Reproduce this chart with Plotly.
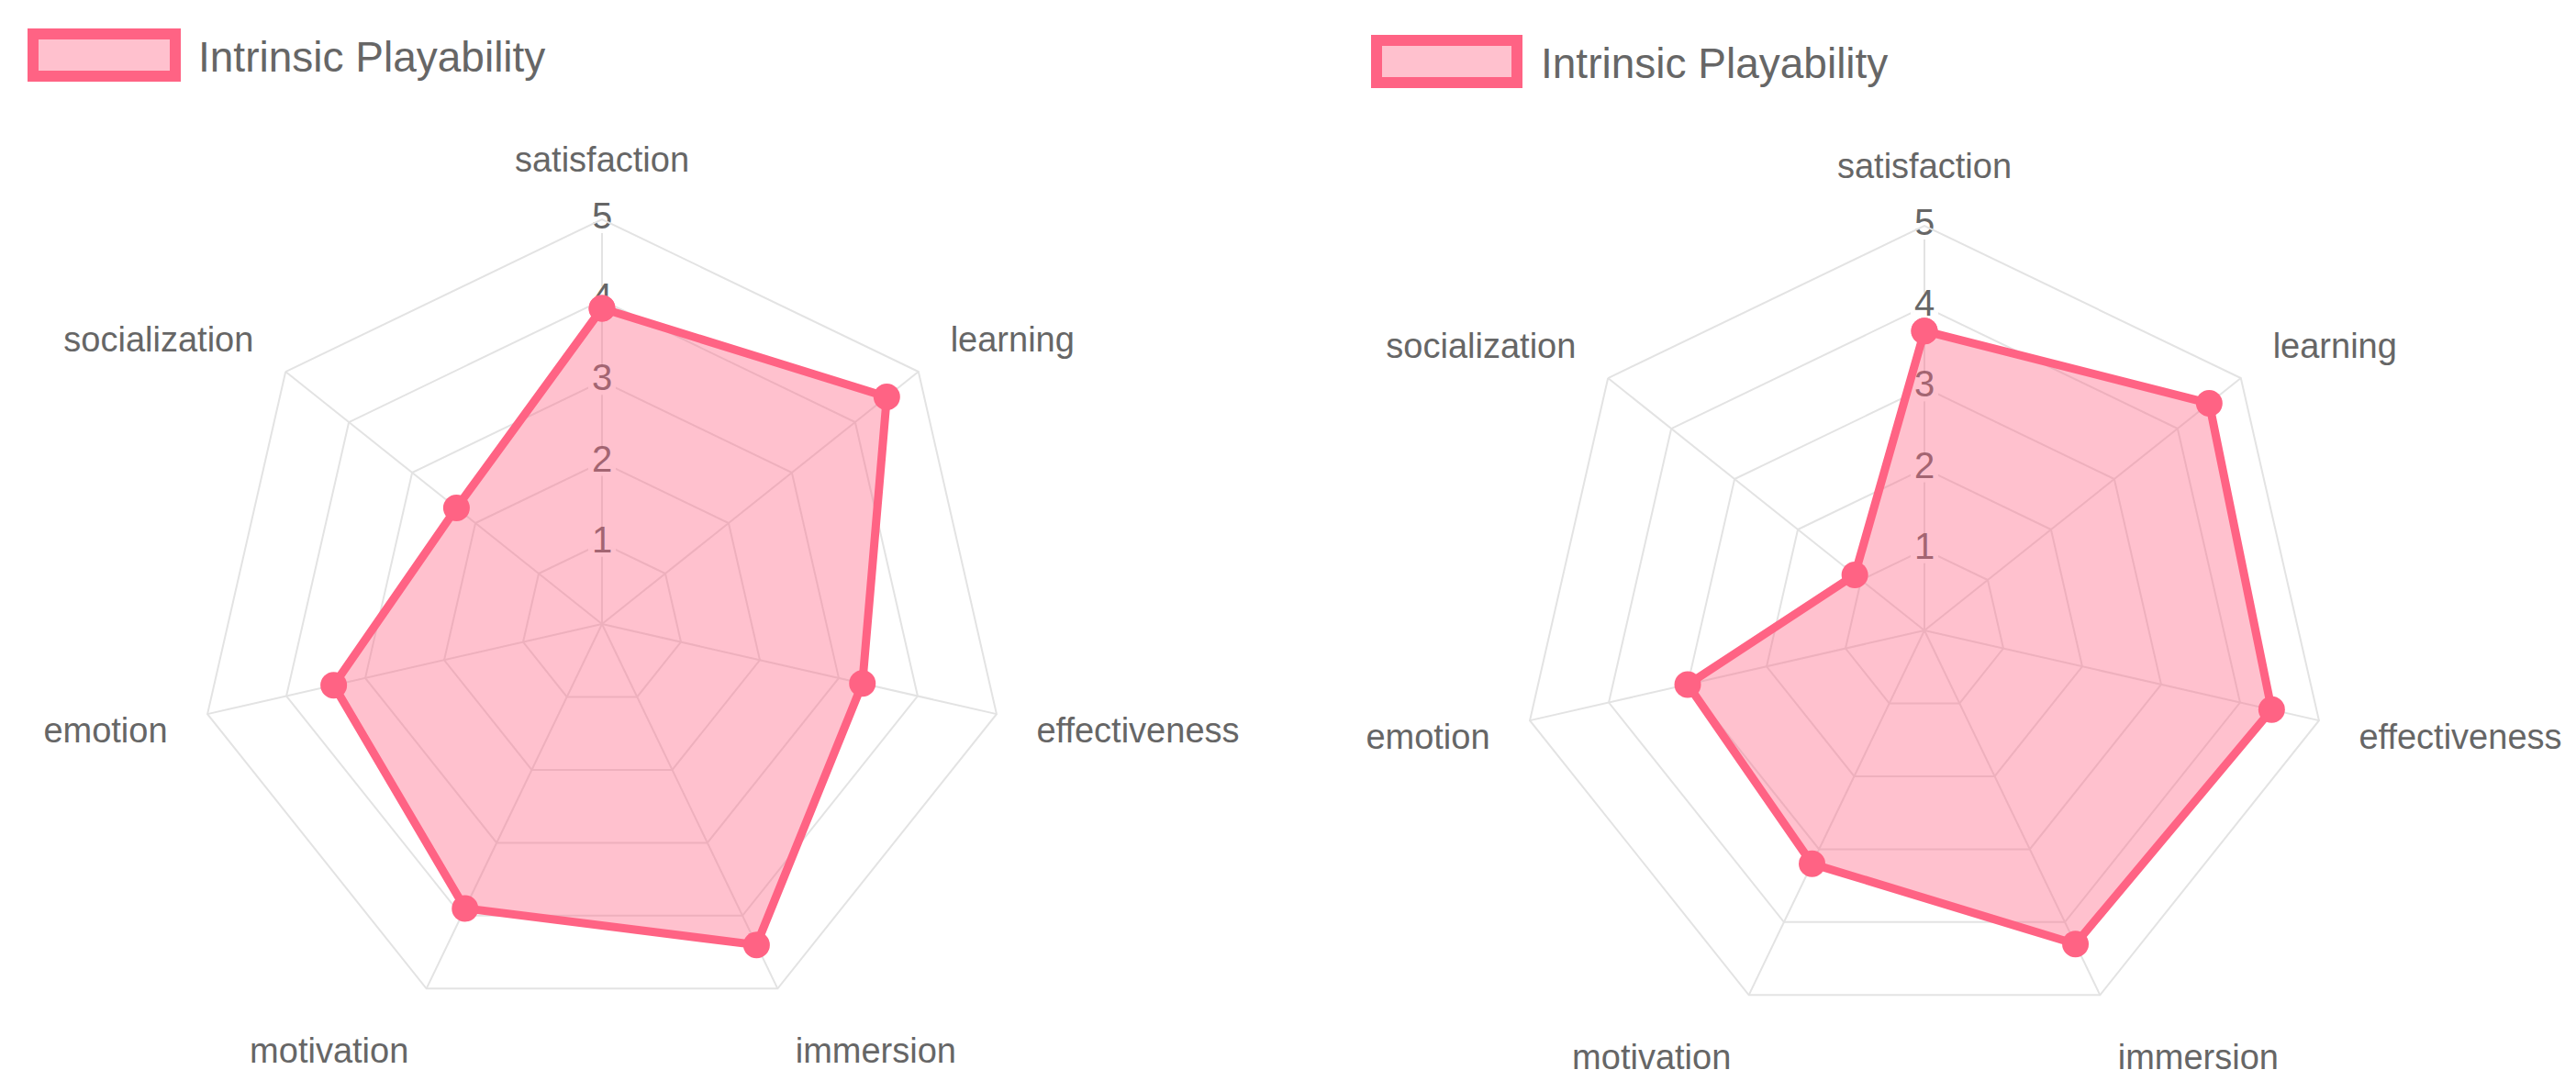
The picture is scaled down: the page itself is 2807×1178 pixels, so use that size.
import plotly.graph_objects as go

W, H = 2807, 1178

categories = ['satisfaction', 'learning', 'effectiveness', 'immersion',
              'motivation', 'emotion', 'socialization']
scores_left = [3.9, 4.5, 3.3, 4.4, 3.9, 3.4, 2.3]
scores_right = [3.7, 4.5, 4.4, 4.3, 3.2, 3.0, 1.1]
tick_values = [1, 2, 3, 4, 5]
series_name = 'Intrinsic Playability'

line_color = '#FF6384'
fill_color = 'rgba(255, 99, 132, 0.4)'
grid_color = '#E3E3E3'
text_color = '#666666'
font_family = 'Liberation Sans, Arial, sans-serif'

fig = go.Figure()

for n, scores in enumerate([scores_left, scores_right], start=1):
    subplot = 'polar' if n == 1 else 'polar2'
    # etiquetas del eje radial (debajo del relleno, con fondo blanco como chart.js)
    fig.add_trace(go.Scatterpolar(
        r=tick_values, theta=[categories[0]] * len(tick_values),
        mode='markers+text', text=[str(v) for v in tick_values],
        textposition='middle center',
        textfont=dict(size=40, color=text_color, family=font_family),
        marker=dict(symbol='square', size=30, color='rgba(255,255,255,0.9)'),
        hoverinfo='skip', showlegend=False, subplot=subplot))
    # serie
    fig.add_trace(go.Scatterpolar(
        r=scores + scores[:1], theta=categories + categories[:1],
        mode='lines+markers', fill='toself', fillcolor=fill_color,
        line=dict(color=line_color, width=9),
        marker=dict(color=line_color, size=29),
        name=series_name, showlegend=False, subplot=subplot))

R = 441
def dom(cx, cy):
    return dict(x=[(cx - R) / W, (cx + R) / W],
                y=[(H - cy - R) / H, (H - cy + R) / H])

polar_style = dict(
    bgcolor='white',
    gridshape='linear',
    radialaxis=dict(range=[0, 5], dtick=1, showticklabels=False, ticks='',
                    showline=False, gridcolor=grid_color, gridwidth=2),
    angularaxis=dict(direction='clockwise', rotation=90,
                     gridcolor=grid_color, gridwidth=2,
                     showline=True, linecolor=grid_color, linewidth=2,
                     ticks='outside', ticklen=36, tickcolor='rgba(0,0,0,0)',
                     tickfont=dict(size=38, color=text_color, family=font_family)),
)

fig.update_layout(
    width=W, height=H,
    margin=dict(l=0, r=0, t=0, b=0),
    paper_bgcolor='white',
    showlegend=False,
    polar=dict(domain=dom(648, 672), **polar_style),
    polar2=dict(domain=dom(2089, 679), **polar_style),
)

# leyendas dibujadas a mano (caja grande como en chart.js)
for x0, x1, y0, y1, tx in [(28, 183, 29, 75, 206), (1492, 1645, 36, 82, 1669)]:
    fig.add_shape(type='rect', xref='paper', yref='paper',
                  x0=x0 / W, x1=x1 / W, y0=1 - y0 / H, y1=1 - y1 / H,
                  line=dict(color=line_color, width=12), fillcolor=fill_color)
    fig.add_annotation(xref='paper', yref='paper', x=tx / W,
                       y=1 - ((y0 + y1) / 2 + 2) / H, xanchor='left', yanchor='middle',
                       text=series_name, showarrow=False,
                       font=dict(size=46, color=text_color, family=font_family))

fig.write_html("out.html")
